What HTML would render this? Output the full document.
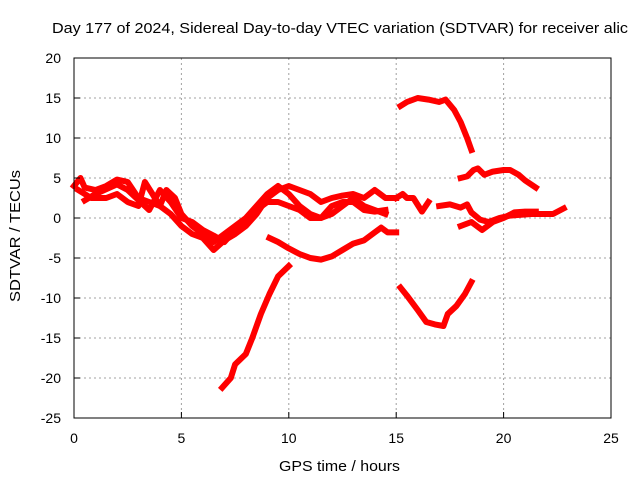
<!DOCTYPE html>
<html><head><meta charset="utf-8"><style>
body{margin:0;background:#fff;}
svg{display:block;font-family:"Liberation Sans",sans-serif;}
</style></head><body>
<svg id="c" width="640" height="480">
<text x="52" y="33" textLength="576" lengthAdjust="spacingAndGlyphs" font-size="15">Day 177 of 2024, Sidereal Day-to-day VTEC variation (SDTVAR) for receiver alic</text>
<text x="279" y="471" textLength="121" lengthAdjust="spacingAndGlyphs" font-size="15">GPS time / hours</text>
<text transform="translate(20,302) rotate(-90)" textLength="132" lengthAdjust="spacingAndGlyphs" font-size="15">SDTVAR / TECUs</text>
<g id="grid"></g><g id="data"></g>
<rect x="74" y="58" width="537" height="360" fill="none" stroke="#000" stroke-width="1"/>
</svg>
<script>
const xTicks=[0,5,10,15,20,25];
const yTicks=[20,15,10,5,0,-5,-10,-15,-20,-25];
const sA=[[6.9,-21.2],[7.3,-20],[7.5,-18.3],[8,-17],[8.3,-15],[8.7,-12],[9.1,-9.5],[9.5,-7.3],[10,-6]];
const sB=[[9.1,-2.5],[9.5,-3],[10,-3.8],[10.5,-4.5],[11,-5],[11.5,-5.2],[12,-4.8],[12.5,-4],[13,-3.2],[13.5,-2.8],[14,-1.8],[14.3,-1.2],[14.6,-1.8],[15,-1.8]];
const sC=[[15.2,14],[15.5,14.5],[16,15],[16.5,14.8],[17,14.5],[17.3,14.8],[17.7,13.5],[18,12],[18.3,10],[18.5,8.5]];
const sD=[[18,5],[18.3,5.2],[18.6,6],[18.8,6.2],[19.1,5.4],[19.5,5.8],[20,6],[20.3,6],[20.7,5.4],[21,4.7],[21.5,3.8]];
const sE=[[15.2,-8.7],[15.5,-9.7],[16,-11.5],[16.4,-13],[16.8,-13.3],[17.2,-13.5],[17.4,-12],[17.8,-11],[18.2,-9.5],[18.5,-8]];
const sF=[[17,1.5],[17.5,1.7],[18,1.3],[18.3,1.7],[18.5,0.7],[18.9,-0.2],[19.3,-0.5],[19.8,0],[20.3,0.3],[20.8,0.4],[21.3,0.5],[21.8,0.5],[22.3,0.5],[22.8,1.2]];
const sG=[[18,-1],[18.5,-0.5],[19,-1.5],[19.5,-0.5],[20,0],[20.5,0.7],[21,0.8],[21.5,0.8]];
const sH=[[15,2.5],[15.3,3],[15.5,2.5],[15.8,2.5],[16.2,0.8],[16.5,2]];
const sL1=[[0,4],[0.3,5],[0.5,3.8],[1,3.5],[1.5,4],[2,4.8],[2.5,4.5],[3,2.5],[3.5,2],[4,1.5],[4.5,0.5],[5,-1],[5.5,-2],[6,-2.5],[6.5,-4],[7,-2.8],[7.5,-2],[8,-1],[8.5,0.5],[9,2.5],[9.5,3.5],[10,4],[10.5,3.5],[11,3],[11.5,2],[12,2.5],[12.5,2.8],[13,3],[13.5,2.5],[14,3.5],[14.5,2.5],[15,2.5]];
const sL2=[[0.2,3.5],[0.8,2.5],[1.5,2.5],[2,3],[2.5,2],[3,1.5],[3.3,4.5],[3.7,2.8],[4,1.5],[4.3,3.5],[4.7,2.5],[5,0.5],[5.5,-1],[6,-2],[6.5,-3],[7,-2],[7.5,-1],[8,0],[8.5,1.5],[9,3],[9.5,4],[10,3],[10.5,1.5],[11,0.5],[11.5,0],[12,0.5],[12.5,1.5],[13,2.5],[13.5,1.5],[14,1],[14.5,0.5]];
const sL3=[[0.5,2.2],[1,3],[2,4.2],[2.5,3.5],[3.5,1],[4,3.5],[4.5,2],[5,0],[5.5,-0.5],[6,-1.5],[6.5,-2.2],[7,-3],[7.5,-1.5],[8,-0.5],[8.5,1],[9,2],[9.5,2],[10,1.5],[10.5,1],[11,0],[11.5,0],[12,1.5],[12.5,2],[13,2],[13.5,1],[14,0.8],[14.5,1]];
const series=[sA,sB,sC,sD,sE,sF,sG,sH,sL1,sL2,sL3];
const X=v=>74+v*537/25, Y=v=>218-v*8;
const NS="http://www.w3.org/2000/svg";
const g=document.getElementById('grid'), d=document.getElementById('data'), svg=document.getElementById('c');
function mk(t,a,p){const e=document.createElementNS(NS,t);for(const k in a)e.setAttribute(k,a[k]);p.appendChild(e);return e;}
xTicks.forEach(t=>{
 if(t>0&&t<25){const l=mk('line',{x1:X(t),x2:X(t),y1:58,y2:418,stroke:'#a0a0a0','stroke-dasharray':'2,3'},g);
 
 }
 const tx=mk('text',{x:X(t),y:443,'text-anchor':'middle','font-size':14},svg);tx.textContent=t;
 
 
 mk('line',{x1:X(t),x2:X(t),y1:418,y2:412,stroke:'#000'},svg);
});
yTicks.forEach(t=>{
 if(t<20&&t>-25){const l=mk('line',{x1:74,x2:611,y1:Y(t),y2:Y(t),stroke:'#a0a0a0','stroke-dasharray':'2,3'},g);
 
 }
 const tx=mk('text',{x:61,y:Y(t)+5,'text-anchor':'end','font-size':14},svg);tx.textContent=t;
 
 
 mk('line',{x1:74,x2:80,y1:Y(t),y2:Y(t),stroke:'#000'},svg);
});
series.forEach(s=>{
 const p=mk('polyline',{points:s.map(q=>X(q[0])+','+Y(q[1])).join(' '),fill:'none',stroke:'#ff0000','stroke-width':6,'stroke-linejoin':'round','stroke-linecap':'square'},d);
 
 
});
</script>
</body></html>
